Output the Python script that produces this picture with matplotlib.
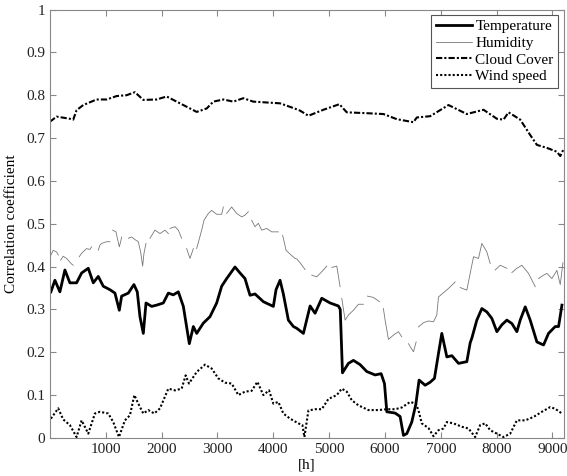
import numpy as np
import matplotlib.pyplot as plt

plt.rcParams['font.family'] = ['Liberation Serif', 'DejaVu Serif']

nan = np.nan

# Cloud cover
cloud_x = [0, 120, 358, 418, 478, 597, 836, 1016, 1195, 1374, 1523, 1673, 1912, 2091, 2330, 2629,
           2808, 2927, 3106, 3285, 3464, 3643, 3883, 4122, 4361, 4480, 4630, 4898, 5185, 5317, 5675,
           5974, 6213, 6511, 6571, 6810, 7139, 7467, 7766, 8005, 8124, 8214, 8423, 8602, 8722, 8901,
           9080, 9140, 9200]
cloud_y = [.738, .750, .745, .743, .765, .777, .790, .790, .798, .800, .807, .789, .790, .797, .781, .761,
           .769, .785, .790, .785, .793, .785, .783, .781, .770, .764, .752, .766, .779, .760, .758,
           .756, .744, .737, .748, .751, .777, .756, .766, .745, .743, .760, .743, .707, .684, .677,
           .668, .658, .674]

# Humidity (gaps in the record)
hum_x = [18, 60, 120, 150, 170,
         191, 239, 299, 388, 418, 470,
         526, 568, 657, 717, 747, 800,
         866, 896, 926, 1016, 1075, 1100,
         1123, 1183, 1243, 1267, 1285, 1340,
         1404, 1464, 1523, 1583, 1625, 1661, 1685, 1721, 1760,
         1792, 1882, 1972, 2061, 2121, 2135,
         2151, 2240, 2300, 2360, 2400,
         2449, 2509, 2569, 2600,
         2629, 2718, 2760, 2838, 2897, 2987, 3076, 3106, 3135,
         3166, 3255, 3345, 3435, 3494, 3554, 3585,
         3614, 3674, 3733, 3793, 3883, 3972, 4091, 4130,
         4169, 4229, 4301, 4391, 4420, 4480, 4570, 4630,
         4689, 4779, 4869, 4958, 5000,
         5048, 5138, 5197, 5212,
         5227, 5287, 5347, 5436, 5526, 5615, 5650,
         5687, 5794, 5902, 5940,
         5973, 6003, 6063, 6153, 6242, 6302, 6360,
         6421, 6511, 6559, 6580,
         6600, 6690, 6780, 6870, 6929, 6959, 7049, 7139, 7258, 7300,
         7348, 7467, 7527, 7587, 7676, 7736, 7826, 7885, 7930,
         7975, 8065, 8184, 8230,
         8274, 8363, 8453, 8572, 8692, 8720,
         8751, 8841, 8901, 8990, 9080, 9140, 9188]
hum_y = [.427, .438, .434, .427, nan,
         .415, .424, .419, .406, .403, nan,
         .423, .431, .442, .440, .446, nan,
         .438, .450, .454, .458, .458, nan,
         .485, .481, .446, .458, .469, nan,
         .466, .469, .463, .458, .434, .401, .431, .454, nan,
         .466, .485, .477, .485, .477, nan,
         .489, .493, .485, .466, nan,
         .442, .419, .442, nan,
         .442, .485, .508, .524, .531, .522, .522, .539, nan,
         .524, .539, .524, .516, .520, .528, nan,
         .508, .493, .501, .485, .489, .481, .481, nan,
         .473, .438, .429, .419, .418, .409, .393, nan,
         .380, .376, .388, .401, nan,
         .398, .401, .353, nan,
         .326, .275, .287, .298, .312, .312, nan,
         .331, .328, .318, nan,
         .302, .275, .230, .240, .248, .236, nan,
         .220, .201, .224, nan,
         .259, .269, .273, .271, .287, .329, .339, .349, .364, nan,
         .351, .345, .384, .423, .419, .454, .434, .407, nan,
         .392, .403, .396, nan,
         .386, .396, .403, .384, .353, nan,
         .372, .380, .384, .372, .391, .358, .409]

# Temperature
temp_x = [18, 90, 179, 269, 358, 478, 568, 687, 777, 866, 956, 1075, 1165, 1243, 1285, 1404, 1505,
          1565, 1613, 1673, 1721, 1822, 1912, 2031, 2121, 2210, 2300, 2390, 2497, 2569, 2629, 2748,
          2867, 2987, 3076, 3166, 3315, 3405, 3494, 3584, 3674, 3823, 4002, 4050, 4122, 4181, 4271,
          4361, 4420, 4540, 4660, 4749, 4869, 5018, 5167, 5200, 5240, 5346, 5436, 5556, 5675, 5824,
          5932, 5992, 6034, 6183, 6272, 6332, 6392, 6481, 6553, 6612, 6720, 6810, 6887, 6959, 7019,
          7109, 7199, 7318, 7467, 7527, 7557, 7646, 7736, 7826, 7915, 8005, 8094, 8184, 8274, 8363,
          8423, 8513, 8602, 8722, 8841, 8930, 9050, 9110, 9170]
temp_y = [.341, .368, .341, .392, .362, .362, .385, .396, .362, .377, .354, .346, .338, .298, .331, .338, .358,
          .341, .283, .244, .315, .307, .310, .315, .338, .334, .341, .307, .220, .260, .244, .268,
          .283, .315, .354, .372, .399, .385, .372, .333, .336, .318, .307, .346, .368, .336, .275,
          .260, .256, .244, .308, .291, .326, .315, .308, .300, .152, .174, .181, .171, .155, .147,
          .150, .127, .061, .058, .050, .006, .010, .037, .078, .135, .123, .130, .139, .197, .244,
          .189, .192, .174, .178, .222, .233, .275, .302, .294, .279, .248, .264, .275, .267, .248,
          .275, .306, .275, .224, .217, .244, .260, .260, .310]

# Wind speed
wind_x = [18, 149, 239, 358, 478, 568, 687, 806, 896, 1045, 1135, 1237, 1344, 1434, 1512, 1583, 1673,
          1762, 1870, 1972, 2121, 2240, 2360, 2431, 2491, 2629, 2778, 2897, 3016, 3136, 3255, 3375,
          3494, 3614, 3716, 3823, 3925, 4002, 4092, 4181, 4301, 4450, 4522, 4558, 4630, 4749, 4869,
          4988, 5138, 5227, 5317, 5406, 5526, 5705, 5884, 6034, 6183, 6302, 6452, 6553, 6600, 6660,
          6780, 6870, 6959, 7049, 7109, 7228, 7378, 7497, 7616, 7706, 7796, 7885, 8005, 8124, 8244,
          8363, 8513, 8662, 8811, 8961, 9050, 9170]
wind_y = [.045, .069, .043, .030, .002, .041, .010, .057, .061, .057, .037, .002, .041, .053, .100, .080, .057,
          .065, .057, .069, .115, .111, .115, .146, .127, .154, .171, .162, .139, .129, .127, .100,
          .108, .110, .131, .100, .111, .080, .084, .057, .045, .034, .030, .002, .064, .067, .067,
          .091, .100, .115, .108, .088, .076, .065, .065, .067, .067, .071, .084, .080, .065, .034,
          .023, .004, .018, .022, .037, .034, .026, .022, .002, .030, .034, .018, .010, .002, .010,
          .041, .041, .049, .061, .072, .068, .057]

fig = plt.figure(figsize=(5.67, 4.76), dpi=100)
ax = fig.add_axes([0.088, 0.080, 0.906, 0.900])

ax.plot(temp_x, temp_y, color='black', lw=2.0, label='Temperature')
ax.plot(hum_x, hum_y, color='#777777', lw=0.6, label='Humidity')
ax.plot(cloud_x, cloud_y, color='black', lw=1.5, linestyle=(0, (3, 1, 1, 1)), label='Cloud Cover')
ax.plot(wind_x, wind_y, color='black', lw=1.5, linestyle=(0, (1, 1)), label='Wind speed')

ax.set_xlim(0, 9200)
ax.set_ylim(0, 1)
ax.set_xticks(range(1000, 10000, 1000))
ax.set_yticks(np.arange(0, 1.01, 0.1))
ax.set_yticklabels(['0', '0.1', '0.2', '0.3', '0.4', '0.5', '0.6', '0.7', '0.8', '0.9', '1'])
ax.tick_params(direction='in', top=True, right=True, length=4, color='#888888',
               labelsize=11, labelcolor='#222222')
for s in ax.spines.values():
    s.set_color('#888888')
    s.set_linewidth(0.8)

ax.set_xlabel('[h]', fontsize=11, labelpad=2)
ax.set_ylabel('Correlation coefficient', fontsize=11, labelpad=6)

leg = ax.legend(loc='upper right', fontsize=11, handlelength=2.4, handletextpad=0.2,
                borderaxespad=0.35, borderpad=0.3, labelspacing=0.2, fancybox=False, framealpha=1)
leg.get_frame().set_edgecolor('#555555')
leg.get_frame().set_linewidth(0.8)

plt.savefig('out.png', dpi=100)
